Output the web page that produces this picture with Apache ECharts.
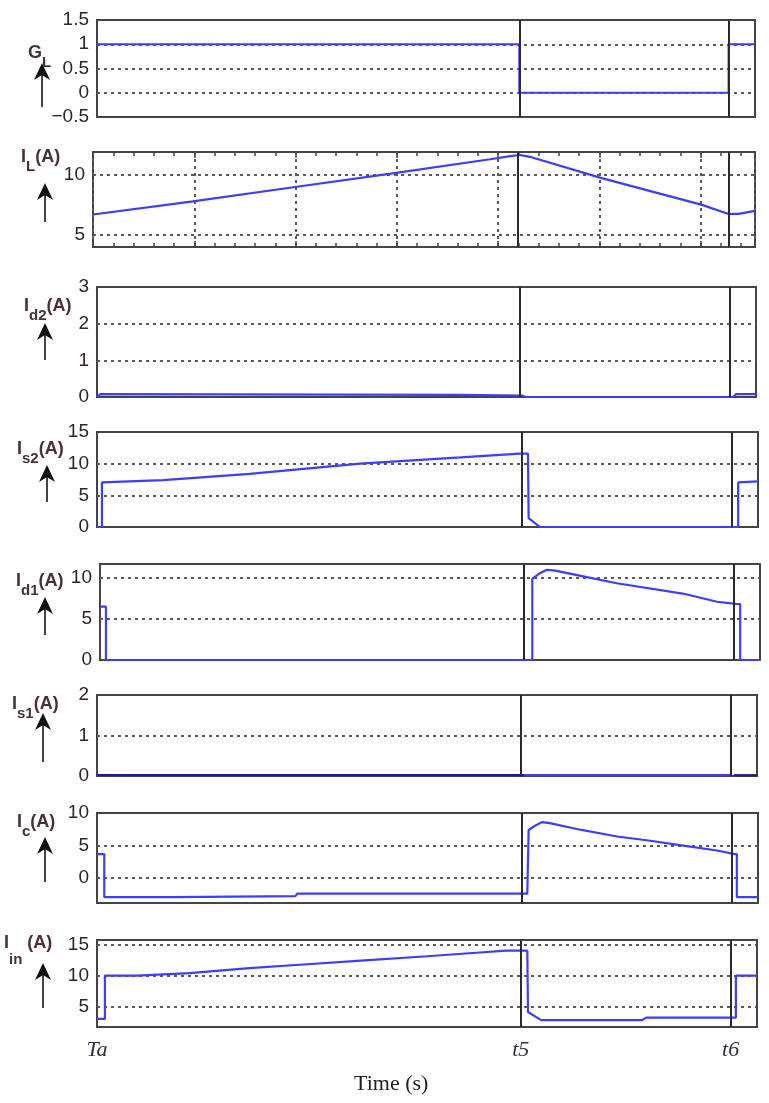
<!DOCTYPE html>
<html>
<head>
<meta charset="utf-8">
<script src="https://cdn.jsdelivr.net/npm/echarts@6/dist/echarts.min.js"></script>
<style>
  html, body { margin: 0; padding: 0; background: #fff; }
  #chart { width: 769px; height: 1103px; }
</style>
</head>
<body>
<div id="chart"></div>
<script>
// switching instants (same time units as the x values below)
const T5 = 64.2;
const T6 = 96.0;
const timeTicks = [0, T5, T6];
const timeTickNames = ['Ta', 't5', 't6'];

// [time, value]
const glData = [[0, 1], [64.2, 1], [64.2, 0], [96, 0], [96, 1], [100, 1]];
const ilData = [[0, 6.7], [15.1, 7.8], [30, 8.95], [45, 10.1], [60, 11.3], [63, 11.55], [64.5, 11.65],
  [66, 11.5], [76.7, 9.75], [92, 7.5], [96, 6.75], [97.5, 6.75], [100, 7.0]];
const id2Data = [[0, 0], [0.5, 0.08], [55, 0.06], [64.5, 0.04], [65, 0], [96.5, 0], [97, 0.08], [100, 0.08]];
const is2Data = [[0, 0], [0.75, 0], [0.75, 7.06], [10, 7.4], [23.1, 8.4], [39.8, 10.0], [55, 11.0],
  [64, 11.6], [65.2, 11.6], [65.3, 1.4], [67, 0], [97, 0], [97, 7.06], [100, 7.2]];
const id1Data = [[0, 6.5], [0.9, 6.5], [0.9, 0], [65.5, 0], [65.5, 9.9], [66.5, 10.5], [67.7, 11.0],
  [69, 10.9], [73.2, 10.2], [78.3, 9.35], [88.3, 8.1], [93.5, 7.1], [96.3, 6.85], [97, 6.8], [97, 0], [100, 0]];
const is1DataA = [[0, 0.02], [64.8, 0.02]];
const is1DataB = [[64.8, 0.02], [96, 0.02]];
const is1DataC = [[96.5, 0.02], [100, 0.02]];
const icData = [[0, 3.7], [1.1, 3.7], [1.1, -2.9], [11.5, -2.9], [11.8, -2.75], [30, -2.75], [30.3, -2.35],
  [65.1, -2.35], [65.3, 7.4], [66.2, 8.0], [67.3, 8.6], [68.5, 8.45], [73.3, 7.4], [78.7, 6.4], [83.7, 5.75],
  [88.7, 5.0], [93.8, 4.25], [96.3, 3.74], [96.8, 3.7], [96.8, -2.9], [100, -2.9]];
const iinData = [[0, 3.1], [1.2, 3.1], [1.2, 10.0], [6.1, 10.0], [6.3, 10.3], [14, 10.4], [23.1, 11.2],
  [30.7, 11.75], [40, 12.4], [50, 13.1], [58, 13.7], [62, 14.0], [65.2, 14.0], [65.3, 4.2], [67.3, 2.9],
  [82.6, 2.9], [83.2, 3.3], [96.8, 3.3], [96.8, 10.0], [100, 10.0]];

// tick labels on each y axis
const glTicks = [-0.5, 0, 0.5, 1, 1.5];
const ilTicks = [5, 10];
const id2Ticks = [0, 1, 2, 3];
const is2Ticks = [0, 5, 10, 15];
const id1Ticks = [0, 5, 10];
const is1Ticks = [0, 1, 2];
const icTicks = [0, 5, 10];
const iinTicks = [5, 10, 15];

const BLUE = '#3d3dff';
const NAVY = '#1c1c9a';
const TXT = '#33231f';

const panels = [
  { label: '{m|G}{s|L}', box: [97, 20, 755, 117], range: [-0.5, 1.5], labels: glTicks, grid: [0, 0.5, 1],
    lines: [[glData, BLUE]], tag: [28, 54], arrow: [42, 63, 107] },
  { label: '{m|I}{s|L}{m|(A)}', box: [93, 152, 755, 247], range: [4, 11.9], labels: ilTicks, grid: ilTicks,
    lines: [[ilData, BLUE]], tag: [21, 158], arrow: [45, 183, 222] },
  { label: '{m|I}{s|d2}{m|(A)}', box: [97, 287, 756, 397], range: [0, 3], labels: id2Ticks, grid: [1, 2],
    lines: [[id2Data, BLUE]], tag: [24, 307], arrow: [45, 323, 360] },
  { label: '{m|I}{s|s2}{m|(A)}', box: [97, 432, 758, 527], range: [0, 15], labels: is2Ticks, grid: [5, 10],
    lines: [[is2Data, BLUE]], tag: [17, 450], arrow: [47, 465, 502] },
  { label: '{m|I}{s|d1}{m|(A)}', box: [100, 564, 760, 660], range: [0, 11.7], labels: id1Ticks, grid: [5, 10],
    lines: [[id1Data, BLUE]], tag: [16, 582], arrow: [45, 597, 635] },
  { label: '{m|I}{s|s1}{m|(A)}', box: [97, 695, 757, 776], range: [0, 2], labels: is1Ticks, grid: [1],
    lines: [[is1DataA, NAVY], [is1DataB, BLUE], [is1DataC, NAVY]], tag: [12, 705], arrow: [43, 713, 762] },
  { label: '{m|I}{s|c}{m|(A)}', box: [97, 813, 758, 903], range: [-3.8, 10], labels: icTicks, grid: [0, 5],
    lines: [[icData, BLUE]], tag: [17, 823], arrow: [45, 837, 882] },
  { label: '{m|I}{t|in}{m| (A)}', box: [97, 940, 757, 1027], range: [1.8, 15.7], labels: iinTicks, grid: [5, 10, 15],
    lines: [[iinData, BLUE]], tag: [4, 944], arrow: [43, 963, 1008] }
];

const dotted = { type: [3, 4], color: '#5a5a5a', width: 2 };
const labelRich = {
  m: { fontFamily: 'Liberation Sans', fontSize: 18, color: '#4a2f3c', lineHeight: 20, verticalAlign: 'top' },
  s: { fontFamily: 'Liberation Sans', fontSize: 15, color: '#4a2f3c', lineHeight: 38 },
  t: { fontFamily: 'Liberation Sans', fontSize: 15, color: '#4a2f3c', lineHeight: 52 }
};

const grid = [], xAxis = [], yAxis = [], series = [], title = [], graphic = [];
const last = panels.length - 1;

panels.forEach((p, i) => {
  const [l, t, r, b] = p.box;
  grid.push({ left: l, top: t, width: r - l, height: b - t, show: true,
    borderColor: '#444', borderWidth: 2, backgroundColor: '#fff' });

  const xa = { gridIndex: i, type: 'value', min: 0, max: 100,
    axisLine: { show: false }, axisTick: { show: false }, axisLabel: { show: false }, splitLine: { show: false } };
  if (i === 1) {
    // inductor current plot keeps the vertical grid and the minor ticks
    xa.interval = 15.3;
    xa.splitLine = { show: true, lineStyle: dotted };
    xa.axisTick = { show: true, inside: true, length: 6, lineStyle: { color: '#444', width: 1.5 } };
    xa.minorTick = { show: true, splitNumber: 5, length: 4, lineStyle: { color: '#444', width: 1.5 } };
  }
  if (i === last) {
    xa.axisLabel = { show: true, customValues: timeTicks, margin: 12,
      fontFamily: 'Liberation Serif', fontStyle: 'italic', fontSize: 22, color: '#2e2e3e',
      formatter: v => {
        let k = 0;
        timeTicks.forEach((tv, j) => { if (Math.abs(tv - v) < Math.abs(timeTicks[k] - v)) k = j; });
        return timeTickNames[k];
      } };
  }
  xAxis.push(xa);

  yAxis.push({ gridIndex: i, type: 'value', min: p.range[0], max: p.range[1],
    axisLine: { show: false },
    axisTick: { show: false, customValues: p.grid },
    axisLabel: { customValues: p.labels, margin: 8, fontFamily: 'Liberation Sans', fontSize: 19, color: TXT,
      formatter: v => String(v).replace('-', '\u2212') },
    splitLine: { show: true, lineStyle: dotted } });

  p.lines.forEach(([data, color], k) => {
    const s = { type: 'line', xAxisIndex: i, yAxisIndex: i, data: data, showSymbol: false,
      lineStyle: { color: color, width: 2.2 }, itemStyle: { color: color }, z: 3 };
    if (k === 0) {
      s.markLine = { symbol: 'none', silent: true, label: { show: false },
        lineStyle: { color: '#2a2a2a', width: 2, type: 'solid' },
        data: [{ xAxis: T5 }, { xAxis: T6 }] };
    }
    series.push(s);
  });

  title.push({ text: p.label, left: p.tag[0], top: p.tag[1] - 10, padding: 0,
    textStyle: { rich: labelRich } });

  const [ax, y0, y1] = p.arrow;
  graphic.push({ type: 'line', shape: { x1: ax, y1: y1, x2: ax, y2: y0 + 10 },
    style: { stroke: '#444', lineWidth: 2 } });
  graphic.push({ type: 'polygon', shape: { points: [[ax, y0], [ax - 8, y0 + 17], [ax, y0 + 12], [ax + 8, y0 + 17]] },
    style: { fill: '#111' } });
});

// x axis caption of the whole figure
title.push({ text: 'Time (s)', left: 354, top: 1073, padding: 0,
  textStyle: { fontFamily: 'Liberation Serif', fontSize: 22, fontWeight: 'normal', color: '#222' } });

// top-edge ticks of the inductor current plot
xAxis.push({ gridIndex: 1, type: 'value', position: 'top', min: 0, max: 100, interval: 15.3,
  axisLine: { show: false }, axisLabel: { show: false }, splitLine: { show: false },
  axisTick: { show: true, inside: true, length: 6, lineStyle: { color: '#444', width: 1.5 } },
  minorTick: { show: true, splitNumber: 5, length: 4, lineStyle: { color: '#444', width: 1.5 } } });

const chart = echarts.init(document.getElementById('chart'), null, { renderer: 'canvas' });
chart.setOption({
  animation: false,
  backgroundColor: '#fff',
  title: title,
  grid: grid,
  xAxis: xAxis,
  yAxis: yAxis,
  series: series,
  graphic: graphic
});
</script>
</body>
</html>
